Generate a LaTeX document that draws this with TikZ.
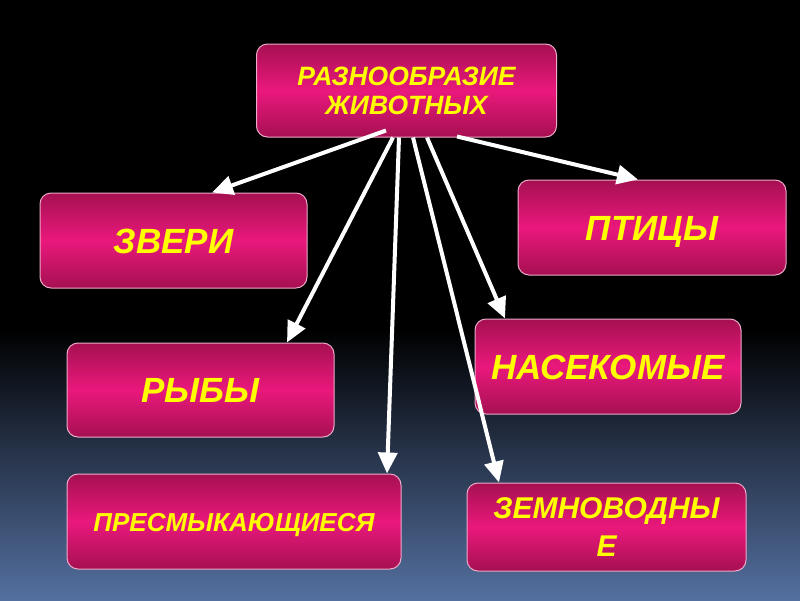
\documentclass[tikz,border=0pt]{standalone}
\usepackage{fontspec}
\setmainfont{Liberation Sans}
\usetikzlibrary{arrows.meta,calc}
\definecolor{boxdark}{RGB}{166,16,82}
\definecolor{boxbright}{RGB}{234,24,124}
\definecolor{boxline}{RGB}{236,170,200}
\definecolor{txtyellow}{RGB}{255,255,0}
\definecolor{bgblue}{RGB}{84,112,160}
\begin{document}
\begin{tikzpicture}[x=1pt,y=-1pt,
  card/.style={draw=boxline,line width=1pt,rounded corners=11pt,
    top color=boxdark,bottom color=boxdark,middle color=boxbright,
    inner sep=0pt,align=center,text=txtyellow,
    font=\bfseries\itshape},
  bigtxt/.style={font=\fontsize{35}{40}\selectfont\bfseries\itshape,text height=25pt,text depth=0pt},
  link/.style={draw=white,line width=4pt,-{Triangle[length=21pt,width=19pt,fill=white]}}]
\useasboundingbox (0,0) rectangle (800,600);
\fill[black] (0,0) rectangle (800,330);
\shade[top color=black,bottom color=bgblue] (0,329) rectangle (800,600);

\node[card,minimum width=300pt,minimum height=93pt,font=\fontsize{26.5}{29}\selectfont\bfseries\itshape]
  (top) at (406.5,90.5) {РАЗНООБРАЗИЕ\\ЖИВОТНЫХ};
\node[card,bigtxt,minimum width=267pt,minimum height=95pt] (zveri) at (173.5,240.5) {ЗВЕРИ};
\node[card,bigtxt,minimum width=268pt,minimum height=95pt] (ptitsy) at (652,227.5) {ПТИЦЫ};
\node[card,bigtxt,minimum width=267pt,minimum height=94pt] (ryby) at (200.5,390) {РЫБЫ};
\node[card,bigtxt,minimum width=266pt,minimum height=95pt] (nasek) at (608,366.5) {НАСЕКОМЫЕ};
\node[card,minimum width=334pt,minimum height=95pt,font=\fontsize{26}{30}\selectfont\bfseries\itshape,text height=19pt,text depth=0pt]
  (presm) at (234,521.5) {ПРЕСМЫКАЮЩИЕСЯ};
\node[card,minimum width=279pt,minimum height=88pt,font=\fontsize{30}{38}\selectfont\bfseries\itshape]
  (zemno) at (606.5,527) {ЗЕМНОВОДНЫ\\Е};

\draw[link] ($(top.south)+(-20.5,-7)$) -- ($(zveri.north)+(38.5,0)$);
\draw[link] ($(top.south)+(50.5,-1)$) -- ($(ptitsy.north)+(-14,0)$);
\draw[link] ($(top.south)+(-13.5,0)$) -- ($(ryby.north)+(86.5,0)$);
\draw[link] ($(top.south)+(-7.5,0)$) -- ($(presm.north)+(153,0)$);
\draw[link] ($(top.south)+(6.5,0)$) -- ($(zemno.north)+(-107.5,0)$);
\draw[link] ($(top.south)+(20.5,0)$) -- ($(nasek.north)+(-103,0)$);
\end{tikzpicture}
\end{document}
